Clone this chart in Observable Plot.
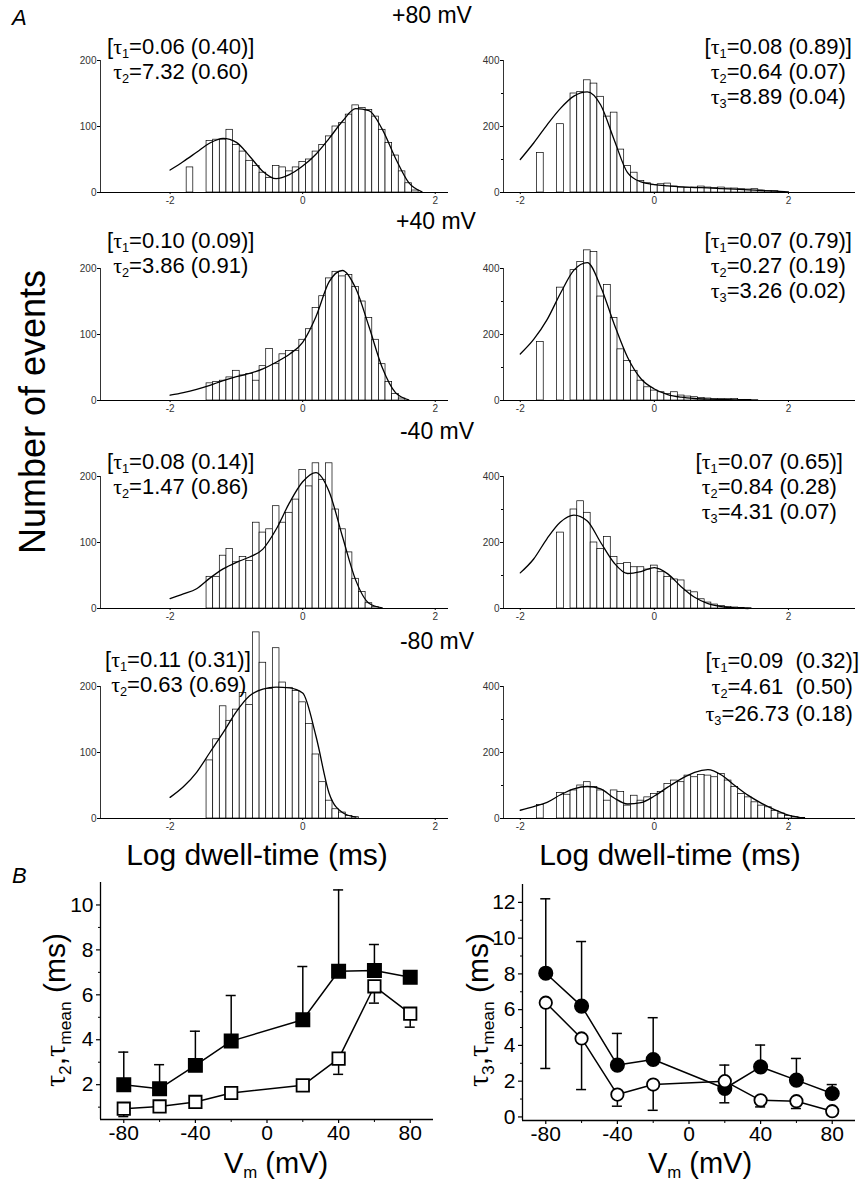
<!DOCTYPE html>
<html><head><meta charset="utf-8">
<script src="https://cdn.jsdelivr.net/npm/d3@7"></script>
<script src="https://cdn.jsdelivr.net/npm/@observablehq/plot@0.6"></script>
<style>
body{margin:0;background:#fff;font-family:"Liberation Sans",Arial,Helvetica,sans-serif;}
#fig{position:relative;width:862px;height:1181px;overflow:hidden;background:#fff;}
.abs{position:absolute;white-space:nowrap;color:#000;line-height:1;}
.pl{position:absolute;}
.t{font-family:"Liberation Serif","DejaVu Serif",serif;}
sub{font-size:0.58em;vertical-align:-0.35em;line-height:0;}
</style></head><body><div id="fig"></div>
<script>
// ---------- Part A: histogram counts (bins 0.1 log-units wide, first bin centre given) ----------
const binW = 0.1;
const p80L_start = -1.7;
const p80L = [38,0,0,78,80,80,95,72,62,48,40,30,22,40,38,32,38,46,50,62,72,85,100,105,118,132,128,125,115,95,75,56,32,14,3];
const p80R_start = -1.7;
const p80R = [120,0,0,207,0,300,305,340,330,290,230,242,130,80,60,35,28,22,25,27,18,15,14,15,18,15,14,15,12,12,10,9,10,6,5,4,2];
const p40L_start = -1.4;
const p40L = [26,28,30,35,45,38,40,30,52,78,55,70,75,75,92,108,140,158,185,195,188,190,172,150,125,92,55,28,10,3];
const p40R_start = -1.7;
const p40R = [177,0,0,342,0,395,420,455,450,315,350,250,155,120,90,60,40,30,25,20,25,15,12,10,8,6,5,4,4,5,2,2,1];
const m40L_start = -1.4;
const m40L = [48,48,80,90,70,78,72,130,115,120,155,130,145,165,210,185,220,195,220,150,120,85,45,25,8,2];
const m40R_start = -1.4;
const m40R = [230,0,300,325,290,200,180,217,156,135,138,125,125,118,130,110,95,88,85,54,49,28,18,12,8,5,3,2,1];
const m80L_start = -1.4;
const m80L = [88,120,170,148,165,190,172,282,236,196,258,206,198,193,176,143,97,55,27,14,9,4,2];
const m80R_start = -1.7;
const m80R = [41,0,0,77,72,85,100,110,95,85,54,85,80,39,69,54,64,74,80,105,115,110,130,125,132,130,125,135,115,95,74,64,49,39,34,23,15,8,4,2];

// fitted curves, read every 0.2 log-units starting at -2
const fitStart = -2, fitStep = 0.2;
const fit80L = [34,47,61,75,82,76,55,32,21,27,40,58,82,108,127,124,96,52,15,1];
const fit80R = [100,150,205,255,292,305,265,160,60,32,24,20,17,15,14,12,10,8,6,4,2];
const fit40L = [8,12,17,23,30,36,41,48,58,70,88,127,180,197,170,112,50,12,1];
const fit40R = [141,185,245,325,395,418,345,232,131,66,35,18,10,6,4,3,2,1];
const fitm40L = [15,22,30,46,60,70,78,90,120,160,192,206,177,109,43,8,1];
const fitm40R = [108,150,212,262,283,265,200,138,106,112,124,105,66,34,15,6,2,0];
const fitm80L = [32,48,70,100,130,162,186,196,199,198,190,125,38,9,2];
const fitm80R = [25,36,49,72,90,97,90,62,44,48,68,95,120,140,148,132,100,70,46,26,10,2];

const xTicksA = [-2,0,2];
const yTicksL = [0,100,200];
const yTicksR = [0,200,400];
const yMinorR = [100,300];
const xDomL = [-3.05,2.2];
const xDomR = [-2.25,3.0];

// ---------- Part B ----------
const Vm = [-80,-60,-40,-20,20,40,60,80];
const tau2 = [2.0,1.82,2.86,3.94,4.89,7.05,7.08,6.78];
const tau2Sd = [1.45,1.07,1.52,2.03,2.37,3.62,1.16,0];
const tauMeanL = [0.93,1.03,1.23,1.63,1.97,3.16,6.38,5.16];
const tauMeanLSd = [0.35,0.25,0.18,0.1,0.1,0.7,0.75,0.6];
const tau3 = [8.04,6.2,2.9,3.21,1.59,2.8,2.06,1.31];
const tau3Sd = [4.16,3.61,1.77,2.34,0.8,1.22,1.21,0.5];
const tau3Dir = [1,1,1,1,-1,1,1,1];
const tauMeanR = [6.39,4.39,1.25,1.81,2.0,0.93,0.88,0.32];
const tauMeanRSd = [3.68,2.86,0.65,1.44,0.9,0.37,0.41,0.22];
const tauMeanRDir = [-1,-1,-1,-1,1,-1,-1,-1];
const xTicksB = [-80,-40,0,40,80];
const xMinorB = [-60,-20,20,60];
const yTicksBL = [2,4,6,8,10];
const yMinorBL = [1,3,5,7,9];
const yTicksBR = [0,2,4,6,8,10,12];
const yMinorBR = [1,3,5,7,9,11];
const yDomBL = [0.45,11];
const yDomBR = [-0.2,13];
const xDomB = [-93,93];

const fig = document.getElementById("fig");
const FONT = "Liberation Sans, Arial, Helvetica, sans-serif";
const plain = d => String(d);

function place(node, left, top) {
  node.classList.add("pl");
  node.style.left = left + "px";
  node.style.top = top + "px";
  fig.appendChild(node);
}

function label(html, x, y, {size = 20, anchor = "start", rotate = 0, italic = false} = {}) {
  const d = document.createElement("div");
  d.className = "abs";
  d.innerHTML = html;
  d.style.fontSize = size + "px";
  d.style.left = x + "px";
  d.style.top = y + "px";
  if (italic) d.style.fontStyle = "italic";
  const tx = anchor === "start" ? "0" : anchor === "middle" ? "-50%" : "-100%";
  d.style.transform = `translate(${tx},-50%)` + (rotate ? ` rotate(${rotate}deg)` : "");
  fig.appendChild(d);
}

function hist(counts, start, fit, col, baseline) {
  const isL = col === "L";
  const xDom = isL ? xDomL : xDomR;
  const yMax = isL ? 200 : 400;
  const bars = counts.map((n, i) => ({x: start + i * binW, n})).filter(d => d.n > 0);
  const fitData = fit.map((n, i) => ({x: fitStart + i * fitStep, n}));
  const mt = 70, ih = 132, mb = 22;
  const marks = [
    Plot.rectY(bars, {x1: d => d.x - binW / 2, x2: d => d.x + binW / 2, y: "n", fill: "white", stroke: "black", strokeWidth: 0.7}),
    Plot.line(fitData, {x: "x", y: "n", curve: "monotone-x", stroke: "black", strokeWidth: 1.3}),
    Plot.ruleY([0], {stroke: "black", strokeWidth: 1}),
    Plot.ruleX([xDom[0]], {y1: 0, y2: yMax, stroke: "black", strokeWidth: 0.8}),
    Plot.axisY({ticks: isL ? yTicksL : yTicksR, tickFormat: plain, tickSize: 3, fontSize: 10, tickPadding: 1, label: null, fill: "#333"}),
    Plot.axisX({ticks: xTicksA, tickFormat: plain, tickSize: 2, fontSize: 10, tickPadding: 2, label: null, fill: "#333"})
  ];
  if (!isL) marks.push(Plot.axisY({ticks: yMinorR, tickSize: 2, tickFormat: () => "", label: null}));
  const p = Plot.plot({
    width: isL ? 410 : 395, height: mt + ih + mb,
    marginLeft: isL ? 60 : 40, marginRight: isL ? 2 : 3, marginTop: mt, marginBottom: mb,
    style: {background: "transparent", overflow: "visible", fontFamily: FONT},
    x: {domain: xDom}, y: {domain: [0, yMax]},
    marks
  });
  place(p, isL ? 40 : 463, baseline - ih - mt);
}

const rows = [
  {b: 192, L: [p80L, p80L_start, fit80L], R: [p80R, p80R_start, fit80R]},
  {b: 400, L: [p40L, p40L_start, fit40L], R: [p40R, p40R_start, fit40R]},
  {b: 608, L: [m40L, m40L_start, fitm40L], R: [m40R, m40R_start, fitm40R]},
  {b: 818, L: [m80L, m80L_start, fitm80L], R: [m80R, m80R_start, fitm80R]}
];
for (const r of rows) {
  hist(...r.L, "L", r.b);
  hist(...r.R, "R", r.b);
}

function bPlot(opts) {
  const {left, top, width, mL, mR, ih, yDom, yTicks, yMinor, filled, open, symbol} = opts;
  const mt = 22, mb = 36;
  const errMarks = (data) => {
    const e = data.filter(d => d.sd > 0).map(d => ({v: d.v, t: d.t, e: d.t + d.dir * d.sd}));
    return [
      Plot.ruleX(e, {x: "v", y1: "t", y2: "e", stroke: "black", strokeWidth: 1.5}),
      Plot.ruleY(e, {y: "e", x1: d => d.v - 2.8, x2: d => d.v + 2.8, stroke: "black", strokeWidth: 1.5})
    ];
  };
  const r = symbol === "square" ? 7.6 : 6.8;
  const p = Plot.plot({
    width, height: mt + ih + mb, marginLeft: mL, marginRight: mR, marginTop: mt, marginBottom: mb,
    style: {background: "transparent", overflow: "visible", fontFamily: FONT},
    x: {domain: xDomB}, y: {domain: yDom},
    marks: [
      Plot.ruleY([yDom[0]], {stroke: "black", strokeWidth: 1.3}),
      Plot.ruleX([xDomB[0]], {stroke: "black", strokeWidth: 1.3}),
      Plot.axisX({ticks: xTicksB, tickFormat: plain, tickSize: 4, fontSize: 21, tickPadding: 2, label: null, strokeWidth: 1.2}),
      Plot.axisX({ticks: xMinorB, tickSize: 3, tickFormat: () => "", label: null}),
      Plot.axisY({ticks: yTicks, tickFormat: plain, tickSize: 4, fontSize: 21, tickPadding: 3, label: null, strokeWidth: 1.2}),
      Plot.axisY({ticks: yMinor, tickSize: 2, tickFormat: () => "", label: null}),
      Plot.line(filled, {x: "v", y: "t", stroke: "black", strokeWidth: 1.5}),
      Plot.line(open, {x: "v", y: "t", stroke: "black", strokeWidth: 1.5}),
      ...errMarks(filled),
      ...errMarks(open),
      Plot.dot(filled, {x: "v", y: "t", symbol, r, fill: "black", stroke: "black"}),
      Plot.dot(open, {x: "v", y: "t", symbol, r: r - 0.6, fill: "white", stroke: "black", strokeWidth: 1.8})
    ]
  });
  place(p, left, top);
}

bPlot({
  left: 40, top: 860, width: 410, mL: 60, mR: 17, ih: 237,
  yDom: yDomBL, yTicks: yTicksBL, yMinor: yMinorBL, symbol: "square",
  filled: Vm.map((v, i) => ({v, t: tau2[i], sd: tau2Sd[i], dir: 1})),
  open: Vm.map((v, i) => ({v, t: tauMeanL[i], sd: tauMeanLSd[i], dir: -1}))
});
bPlot({
  left: 462, top: 862, width: 400, mL: 60, mR: 7, ih: 236,
  yDom: yDomBR, yTicks: yTicksBR, yMinor: yMinorBR, symbol: "circle",
  filled: Vm.map((v, i) => ({v, t: tau3[i], sd: tau3Sd[i], dir: tau3Dir[i]})),
  open: Vm.map((v, i) => ({v, t: tauMeanR[i], sd: tauMeanRSd[i], dir: tauMeanRDir[i]}))
});

// ---------- text ----------
const T = '<span class="t">τ</span>';
label("A", 12, 18, {size: 22, italic: true});
label("B", 12, 876, {size: 22, italic: true});
label("+80 mV", 432, 15, {size: 23, anchor: "middle"});
label("+40 mV", 436, 221, {size: 23, anchor: "middle"});
label("-40 mV", 437, 431, {size: 23, anchor: "middle"});
label("-80 mV", 437, 641, {size: 23, anchor: "middle"});
label("Number of events", 33, 412, {size: 36, anchor: "middle", rotate: -90});
label("Log dwell-time (ms)", 257, 855, {size: 30, anchor: "middle"});
label("Log dwell-time (ms)", 670, 855, {size: 30, anchor: "middle"});
label(`V<sub>m</sub> (mV)`, 276, 1163, {size: 29, anchor: "middle"});
label(`V<sub>m</sub> (mV)`, 700, 1163, {size: 29, anchor: "middle"});
label(`${T}<sub>2</sub>,${T}<sub>mean</sub> (ms)`, 55, 1010, {size: 30, anchor: "middle", rotate: -90});
label(`${T}<sub>3</sub>,${T}<sub>mean</sub> (ms)`, 478, 1010, {size: 30, anchor: "middle", rotate: -90});

const ann = [
  {x: 107, ys: [47, 72], a: "start", lines: [`[${T}<sub>1</sub>=0.06 (0.40)]`, `&nbsp;${T}<sub>2</sub>=7.32 (0.60)`]},
  {x: 852, ys: [47, 72, 97], a: "end", lines: [`[${T}<sub>1</sub>=0.08 (0.89)]`, `${T}<sub>2</sub>=0.64 (0.07)&nbsp;`, `${T}<sub>3</sub>=8.89 (0.04)&nbsp;`]},
  {x: 107, ys: [241, 266], a: "start", lines: [`[${T}<sub>1</sub>=0.10 (0.09)]`, `&nbsp;${T}<sub>2</sub>=3.86 (0.91)`]},
  {x: 852, ys: [241, 266, 291], a: "end", lines: [`[${T}<sub>1</sub>=0.07 (0.79)]`, `${T}<sub>2</sub>=0.27 (0.19)&nbsp;`, `${T}<sub>3</sub>=3.26 (0.02)&nbsp;`]},
  {x: 107, ys: [462, 487], a: "start", lines: [`[${T}<sub>1</sub>=0.08 (0.14)]`, `&nbsp;${T}<sub>2</sub>=1.47 (0.86)`]},
  {x: 843, ys: [462, 487, 512], a: "end", lines: [`[${T}<sub>1</sub>=0.07 (0.65)]`, `${T}<sub>2</sub>=0.84 (0.28)&nbsp;`, `${T}<sub>3</sub>=4.31 (0.07)&nbsp;`]},
  {x: 105, ys: [660, 685], a: "start", lines: [`[${T}<sub>1</sub>=0.11 (0.31)]`, `&nbsp;${T}<sub>2</sub>=0.63 (0.69)`]},
  {x: 859, ys: [661, 687, 714], a: "end", lines: [`[${T}<sub>1</sub>=0.09&nbsp; (0.32)]`, `${T}<sub>2</sub>=4.61&nbsp; (0.50)&nbsp;`, `${T}<sub>3</sub>=26.73 (0.18)&nbsp;`]}
];
for (const g of ann) g.lines.forEach((h, i) => label(h, g.x, g.ys[i], {size: 22, anchor: g.a}));
</script></body></html>
